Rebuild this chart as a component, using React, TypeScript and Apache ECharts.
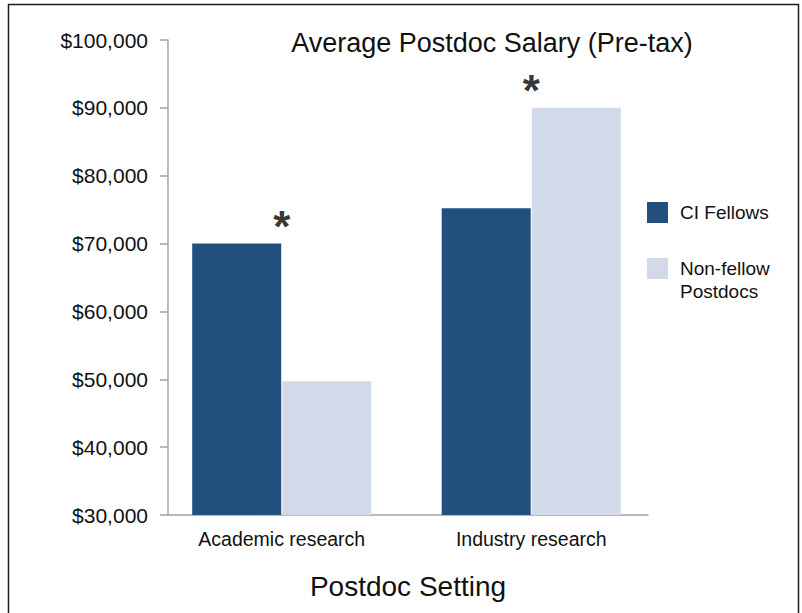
import React, { useEffect, useRef } from "react";
import * as echarts from "echarts";

// Postdoc setting categories and average pre-tax salary (USD)
const categories = ["Academic research", "Industry research"];
const seriesNames = ["CI Fellows", "Non-fellow Postdocs"];
const ciFellows = [70000, 75200];
const nonFellows = [49700, 90000];
// Settings where the difference between the two groups is flagged with "*"
const significant = [true, true];

const yMin = 30000;
const yMax = 100000;
const yStep = 10000;

const FONT = '"Liberation Sans", Arial, Helvetica, sans-serif';
const INK = "#111111";
const AXIS = "#a3a3a3";
const DARK = "#214f7e";
const LIGHT = "#d2d9e8";

export default function App() {
  const ref = useRef<HTMLDivElement>(null);

  useEffect(() => {
    const chart = echarts.init(ref.current!, null, { renderer: "svg" });
    const markers = categories.map((_, i) =>
      significant[i] ? Math.max(ciFellows[i], nonFellows[i]) : null
    );
    const legendText = {
      fontFamily: FONT,
      fontSize: 19,
      color: INK,
    };

    chart.setOption({
      animation: false,
      backgroundColor: "#ffffff",
      textStyle: { fontFamily: FONT },
      title: {
        text: "Average Postdoc Salary (Pre-tax)",
        left: 492,
        top: 29,
        textAlign: "center",
        padding: 0,
        textStyle: { fontFamily: FONT, fontSize: 27, fontWeight: "normal", color: INK },
      },
      legend: [
        {
          data: [seriesNames[0]],
          orient: "vertical",
          left: 647,
          top: 202,
          padding: 0,
          itemWidth: 21,
          itemHeight: 21,
          icon: "rect",
          textStyle: { ...legendText, padding: [0, 0, 0, 7] },
        },
        {
          // leading blank line keeps the swatch level with the first text line
          data: [seriesNames[1]],
          orient: "vertical",
          left: 647,
          top: 234,
          padding: 0,
          itemWidth: 21,
          itemHeight: 21,
          icon: "rect",
          formatter: (name: string) => "\n" + name.replace(" ", "\n"),
          textStyle: { ...legendText, lineHeight: 23, padding: [0, 0, 0, 7] },
        },
      ],
      grid: [
        { left: 168, top: 40, width: 480, height: 475 },
        { left: 157, top: 40, width: 499, height: 475 },
      ],
      xAxis: [
        {
          gridIndex: 0,
          type: "value",
          min: 0,
          max: 1,
          axisLine: { show: true, lineStyle: { color: AXIS, width: 1.5 } },
          axisTick: { show: false },
          axisLabel: { show: false },
          splitLine: { show: false },
          name: "Postdoc Setting",
          nameLocation: "middle",
          nameGap: 57,
          nameTextStyle: { fontFamily: FONT, fontSize: 28, color: INK },
        },
        {
          gridIndex: 1,
          type: "category",
          data: categories,
          axisLine: { show: false },
          axisTick: { show: false },
          axisLabel: { margin: 14, fontFamily: FONT, fontSize: 19.5, color: INK },
        },
      ],
      yAxis: [
        {
          gridIndex: 0,
          type: "value",
          min: yMin,
          max: yMax,
          interval: yStep,
          axisLine: { show: true, lineStyle: { color: AXIS, width: 1.5 } },
          axisTick: { show: true, length: 8, lineStyle: { color: AXIS, width: 1.5 } },
          axisLabel: {
            margin: 20,
            fontFamily: FONT,
            fontSize: 21,
            color: INK,
            formatter: (v: number) => "$" + v.toLocaleString("en-US"),
          },
          splitLine: { show: false },
        },
        { gridIndex: 1, type: "value", min: yMin, max: yMax, interval: yStep, show: false },
      ],
      series: [
        {
          name: seriesNames[0],
          type: "bar",
          xAxisIndex: 1,
          yAxisIndex: 1,
          data: ciFellows,
          barWidth: 89,
          barGap: "1.2%",
          itemStyle: { color: DARK },
        },
        {
          name: seriesNames[1],
          type: "bar",
          xAxisIndex: 1,
          yAxisIndex: 1,
          data: nonFellows,
          barWidth: 89,
          barGap: "1.2%",
          itemStyle: { color: LIGHT },
        },
        {
          type: "scatter",
          xAxisIndex: 1,
          yAxisIndex: 1,
          data: markers,
          symbolSize: 0,
          silent: true,
          label: {
            show: true,
            formatter: "*",
            position: "top",
            distance: -5,
            fontFamily: FONT,
            fontSize: 44,
            fontWeight: "bold",
            color: "#000000",
          },
        },
      ],
      graphic: [
        {
          type: "rect",
          silent: true,
          z: 100,
          shape: { x: 8.5, y: 4.5, width: 790, height: 700 },
          style: { fill: "none", stroke: "#1c1c1c", lineWidth: 1.5 },
        },
      ],
    });

    return () => chart.dispose();
  }, []);

  return (
    <div
      style={{
        position: "absolute",
        left: 0,
        top: 0,
        width: 802,
        height: 613,
        overflow: "hidden",
        background: "#ffffff",
      }}
    >
      <div ref={ref} style={{ width: 802, height: 613 }} />
    </div>
  );
}
